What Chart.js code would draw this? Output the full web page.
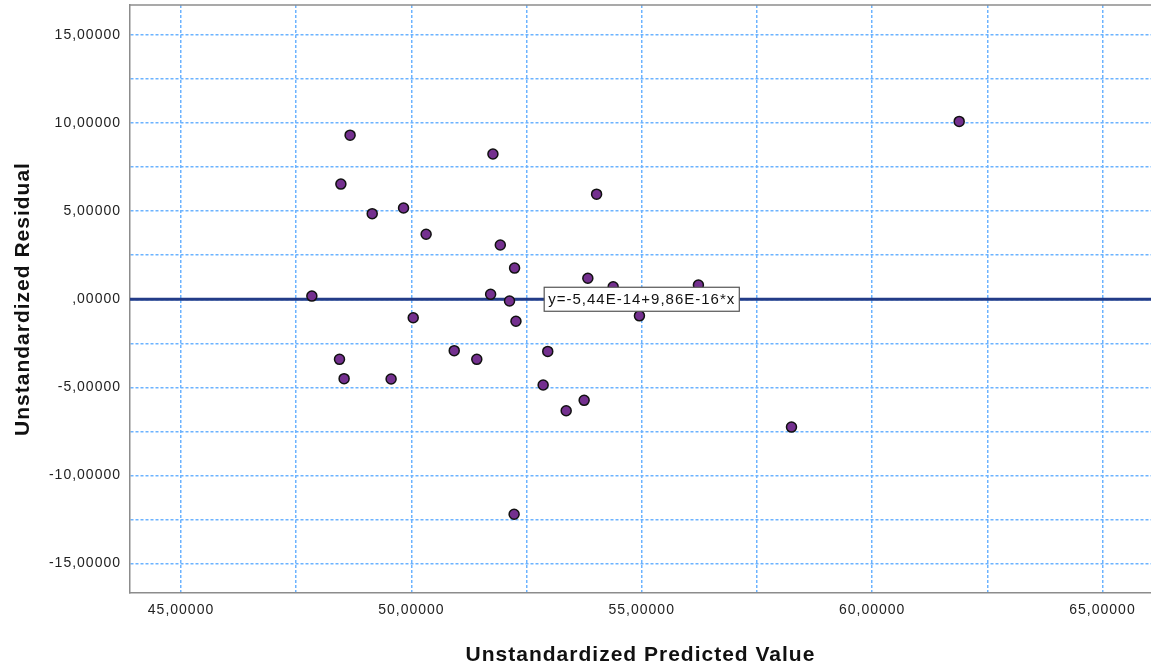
<!DOCTYPE html>
<html>
<head>
<meta charset="utf-8">
<script src="https://cdn.jsdelivr.net/npm/chart.js@4.4.1/dist/chart.umd.min.js"></script>
<style>
  html, body { margin: 0; padding: 0; background: #fff; overflow: hidden; }
</style>
</head>
<body>
<canvas id="myChart" width="1151" height="668"></canvas>
<script>
/* residual plot */
let predicted = [47.84, 48.67, 48.47, 49.15, 49.83, 50.32, 51.77, 51.93, 52.24, 51.72,
                 52.13, 52.27, 50.04, 48.44, 48.54, 49.56, 50.93, 51.42, 52.96, 52.86,
                 53.36, 53.75, 52.23, 54.02, 53.83, 54.38, 54.95, 56.23, 58.25, 61.89];
let residual = [0.18, 9.32, 6.54, 4.86, 5.18, 3.69, 8.25, 3.08, 1.77, 0.28,
                -0.10, -1.25, -1.05, -3.41, -4.51, -4.53, -2.92, -3.41, -2.96, -4.87,
                -6.33, -5.74, -12.21, 5.97, 1.19, 0.71, -0.94, 0.81, -7.26, 10.10];

let xGrid = [45, 47.5, 50, 52.5, 55, 57.5, 60, 62.5, 65];
let yGrid = [-15, -12.5, -10, -7.5, -5, -2.5, 0, 2.5, 5, 7.5, 10, 12.5, 15];
let xRange = [43.893, 66.053];
let yRange = [-16.68, 16.71];

// fit line y = a + b*x
let fitA = -5.44e-14;
let fitB = 9.86e-16;
let fitText = 'y=-5,44E-14+9,86E-16*x';
let fitLabelX = 55;

let points = [];
for (let i = 0; i < predicted.length; i++) {
    points.push({x: predicted[i], y: residual[i]});
}
let fitLine = [
    {x: xRange[0], y: fitA + fitB * xRange[0]},
    {x: xRange[1], y: fitA + fitB * xRange[1]}
];

let FONT = '"Liberation Sans", Arial, sans-serif';

function fmt(v) {
    let s = Math.abs(v).toFixed(5).replace('.', ',');
    if (s.indexOf('0,') === 0) s = s.substring(1);
    return (v < 0 ? '-' : '') + s;
}

function labelIfMajor(v) {
    return Math.abs(v % 5) < 1e-9 ? fmt(v) : '';
}

function gridStyle() {
    return {color: '#6cb3ff', lineWidth: 1.5, drawTicks: false};
}
function borderStyle() {
    // v4: dash here is the dash of the grid lines
    return {color: '#8c8c8c', width: 1.5, dash: [3, 2]};
}

// SPSS text looks a bit wider than plain Arial
function spacing(chart) {
    chart.ctx.letterSpacing = '1px';
}

// top border + fit label
let framePlugin = {
    id: 'frame',
    beforeUpdate: spacing,
    beforeDraw: spacing,
    beforeDatasetsDraw: function (chart) {
        let c = chart.ctx, a = chart.chartArea;
        c.save();
        c.strokeStyle = '#8c8c8c';
        c.lineWidth = 1.5;
        c.beginPath();
        c.moveTo(a.left, a.top);
        c.lineTo(a.right, a.top);
        c.stroke();
        c.restore();
    },
    afterDatasetsDraw: function (chart) {
        let c = chart.ctx;
        let px = chart.scales.x.getPixelForValue(fitLabelX);
        let py = chart.scales.y.getPixelForValue(fitA + fitB * fitLabelX);
        c.save();
        c.font = '15px ' + FONT;
        let w = c.measureText(fitText).width + 8;
        let h = 24;
        c.fillStyle = '#fff';
        c.fillRect(px - w / 2, py - h / 2, w, h);
        c.strokeStyle = '#555';
        c.lineWidth = 1.2;
        c.strokeRect(px - w / 2, py - h / 2, w, h);
        c.fillStyle = '#111';
        c.textAlign = 'center';
        c.textBaseline = 'middle';
        c.fillText(fitText, px, py + 1);
        c.restore();
    }
};

let ctx = document.getElementById('myChart').getContext('2d');

let myChart = new Chart(ctx, {
    type: 'scatter',
    data: {
        datasets: [{
            label: 'Residual',
            data: points,
            backgroundColor: '#74308f',
            borderColor: '#111',
            borderWidth: 1.5,
            pointRadius: 5,
            order: 1
        }, {
            type: 'line',
            label: 'Fit',
            data: fitLine,
            borderColor: '#233c88',
            borderWidth: 3,
            pointRadius: 0,
            fill: false,
            order: 2
        }]
    },
    options: {
        responsive: false,
        animation: false,
        layout: {
            autoPadding: false,
            padding: {top: 5, right: 0, left: 0, bottom: 0}
        },
        plugins: {
            legend: {display: false},
            tooltip: {enabled: false}
        },
        scales: {
            x: {
                type: 'linear',
                min: xRange[0],
                max: xRange[1],
                afterBuildTicks: function (axis) {
                    axis.ticks = xGrid.map(function (v) { return {value: v}; });
                },
                afterFit: function (axis) {
                    axis.height = 75;
                    axis.paddingLeft = 0;
                    axis.paddingRight = 0;
                },
                grid: gridStyle(),
                border: borderStyle(),
                ticks: {
                    autoSkip: false,
                    maxRotation: 0,
                    padding: 9,
                    color: '#222',
                    font: {size: 14, family: FONT},
                    callback: labelIfMajor
                },
                title: {
                    display: true,
                    text: 'Unstandardized Predicted Value',
                    color: '#111',
                    padding: {top: 0, bottom: 0},
                    font: {size: 21, weight: 'bold', family: FONT}
                }
            },
            y: {
                type: 'linear',
                min: yRange[0],
                max: yRange[1],
                afterBuildTicks: function (axis) {
                    axis.ticks = yGrid.map(function (v) { return {value: v}; });
                },
                afterFit: function (axis) {
                    axis.width = 130;
                    axis.paddingTop = 0;
                    axis.paddingBottom = 0;
                },
                grid: gridStyle(),
                border: borderStyle(),
                ticks: {
                    autoSkip: false,
                    padding: 9,
                    color: '#222',
                    font: {size: 14, family: FONT},
                    callback: labelIfMajor
                },
                title: {
                    display: true,
                    text: 'Unstandardized Residual',
                    color: '#111',
                    padding: {top: 11, bottom: 11},
                    font: {size: 21, weight: 'bold', family: FONT}
                }
            }
        }
    },
    plugins: [framePlugin]
});
</script>
</body>
</html>
